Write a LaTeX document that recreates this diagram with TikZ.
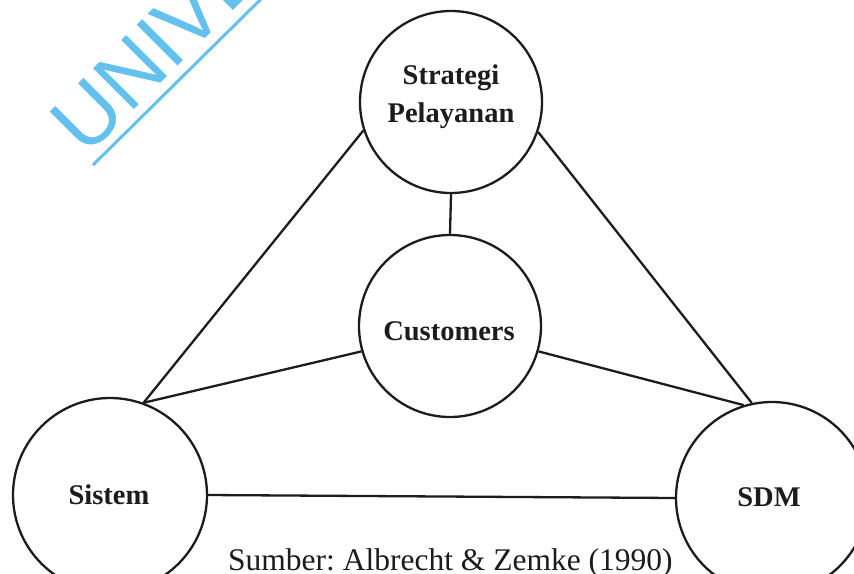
\documentclass[tikz,border=0pt]{standalone}
\usepackage{fontspec}
\setmainfont{Liberation Serif}
\newfontfamily\wmfont{Liberation Sans}
\frenchspacing
\definecolor{ink}{RGB}{28,28,28}
\definecolor{wmblue}{RGB}{100,192,236}
\tikzset{
  circ/.style={circle, draw=ink, line width=2.3pt, inner sep=0pt, minimum size=#1},
  lab/.style={text=ink, font=\bfseries\fontsize{28.5}{38}\selectfont, align=center, inner sep=0pt},
  link/.style={draw=ink, line width=2.3pt}
}
\begin{document}
\begin{tikzpicture}[x=1pt,y=-1pt]
\useasboundingbox (0,0) rectangle (854,573);
\clip (0,0) rectangle (854,573);
\fill[white] (0,0) rectangle (854,573);
% watermark
\node[anchor=base west, rotate=45, inner sep=0pt, text=wmblue, font=\wmfont\fontsize{84}{84}\selectfont] (wm) at (86.5,157.5) {UNIVE};
\coordinate (wma) at (93,165);
\coordinate (wmb) at (262,-2);
\draw[wmblue, line width=3pt] (wma) -- (wmb);
% circles
\node[circ=182] (str) at (451,102) {};
\node[circ=182] (cus) at (450,326) {};
\node[circ=194] (sis) at (110,495) {};
\node[circ=192] (sdm) at (772,498) {};
% labels
\node[lab] (strt) at (451,97) {Strategi\\Pelayanan};
\node[lab] (cust) at (449,331) {Customers};
\node[lab] (sist) at (109,495) {Sistem};
\node[lab] (sdmt) at (769,497) {SDM};
% connectors
\draw[link] (str.south) -- (cus.north);
\draw[link] (sis.70) -- (str.198);
\draw[link] (sis.70) -- (cus.196);
\draw[link] (sdm.102) -- (str.-19);
\draw[link] (sdm.107) -- (cus.344);
\draw[link] (sis.east) -- (sdm.west);
% caption
\node[anchor=base west, inner sep=0pt, text=ink, font=\fontsize{31.5}{36}\selectfont] (cap) at (228,570) {Sumber: Albrecht \& Zemke (1990)};
\end{tikzpicture}
\end{document}
